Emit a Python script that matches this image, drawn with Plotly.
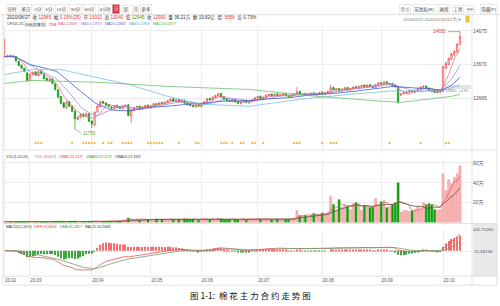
import plotly.graph_objects as go
import pandas as pd

W, H = 500, 306
def fx(p): return p / W
def fy(p): return 1 - p / H

# ---------------- data ----------------
month_labels = ["20.02", "20.03", "20.04", "20.05", "20.06", "20.07", "20.08", "20.09", "20.10"]
month_idx = [0, 9, 31, 52, 70, 90, 113, 134, 156]

opens = [13900, 13900, 13940, 13890, 13910, 13770, 13650, 13560, 13420, 13200,
         13370, 13450, 13340, 13470, 13390, 13260, 13180, 13240, 13100, 12920,
         12720, 12530, 12380, 12570, 12440, 12290, 12040, 12090, 12190, 12120,
         12210, 11990, 11880, 12260, 12420, 12570, 12530, 12480, 12410, 12370,
         12450, 12410, 12360, 12420, 12470, 12140, 12300, 12390, 12430, 12350,
         12400, 12460, 12390, 12430, 12510, 12470, 12540, 12500, 12540, 12590,
         12650, 12570, 12630, 12550, 12610, 12530, 12490, 12450, 12410, 12480,
         12420, 12490, 12550, 12660, 12610, 12690, 12740, 12810, 12710, 12650,
         12610, 12570, 12630, 12570, 12510, 12550, 12610, 12530, 12570, 12610,
         12670, 12730, 12650, 12690, 12750, 12790, 12730, 12800, 12740, 12760,
         12810, 12750, 12710, 12750, 12790, 12870, 12770, 12810, 12750, 12780,
         12830, 12770, 12790, 12850, 12790, 12820, 12860, 12990, 12910, 12960,
         12890, 12930, 12990, 12910, 12950, 13010, 12960, 13010, 13060, 12990,
         13070, 13030, 12980, 13060, 13130, 13090, 13160, 13080, 13110, 13050,
         13000, 12760, 12800, 12820, 12840, 12890, 12850, 12900, 12940, 12990,
         13030, 12970, 12890, 12890, 12830, 12850, 12880, 13560, 13680, 13830,
         13960, 14050, 14270]

highs = [14440, 13960, 13950, 13950, 13930, 13790, 13670, 13580, 13440, 13400,
         13470, 13480, 13490, 13500, 13410, 13280, 13270, 13260, 13120, 12940,
         12740, 12560, 12600, 12590, 12460, 12300, 12140, 12230, 12220, 12240,
         12230, 12010, 12280, 12470, 12600, 12600, 12550, 12500, 12430, 12470,
         12480, 12430, 12460, 12480, 12500, 12340, 12410, 12450, 12460, 12440,
         12470, 12480, 12470, 12530, 12530, 12560, 12560, 12570, 12620, 12660,
         12670, 12640, 12650, 12620, 12630, 12550, 12510, 12470, 12490, 12500,
         12520, 12580, 12670, 12680, 12720, 12770, 12830, 12830, 12730, 12670,
         12630, 12640, 12650, 12590, 12580, 12620, 12630, 12600, 12640, 12700,
         12740, 12750, 12720, 12780, 12800, 12810, 12810, 12820, 12790, 12820,
         12830, 12770, 12780, 12820, 13000, 12890, 12820, 12830, 12810, 12840,
         12850, 12820, 12860, 12870, 12850, 12890, 13070, 13010, 12970, 12980,
         12960, 13000, 13010, 12980, 13020, 13030, 13040, 13070, 13080, 13080,
         13090, 13050, 13100, 13150, 13150, 13180, 13180, 13130, 13130, 13070,
         13020, 12830, 12860, 12880, 12910, 12910, 12930, 12980, 13030, 13060,
         13050, 12990, 12910, 12910, 12880, 12890, 13640, 13760, 13880, 14020,
         14100, 14300, 14650]

lows = [13870, 13880, 13880, 13870, 13750, 13620, 13530, 13440, 13150, 13180,
        13350, 13330, 13320, 13380, 13230, 13170, 13160, 13090, 12900, 12680,
        12490, 12370, 12360, 12410, 12260, 11750, 12010, 12070, 12100, 12100,
        11960, 11780, 11830, 12240, 12400, 12500, 12450, 12400, 12350, 12350,
        12380, 12340, 12340, 12400, 12130, 11930, 12280, 12370, 12340, 12330,
        12380, 12380, 12370, 12410, 12460, 12450, 12490, 12480, 12520, 12570,
        12560, 12550, 12540, 12530, 12500, 12460, 12430, 12400, 12390, 12410,
        12400, 12470, 12530, 12600, 12590, 12670, 12720, 12680, 12620, 12580,
        12560, 12550, 12540, 12500, 12490, 12530, 12520, 12510, 12550, 12590,
        12650, 12640, 12630, 12670, 12730, 12720, 12710, 12730, 12720, 12740,
        12720, 12700, 12690, 12730, 12770, 12760, 12750, 12740, 12730, 12760,
        12760, 12750, 12770, 12780, 12770, 12800, 12840, 12900, 12890, 12880,
        12870, 12910, 12900, 12890, 12930, 12950, 12940, 12990, 12980, 12970,
        13000, 12970, 12960, 13040, 13080, 13070, 13070, 13060, 13020, 12980,
        12500, 12740, 12780, 12800, 12820, 12840, 12830, 12880, 12920, 12970,
        12940, 12880, 12860, 12820, 12810, 12830, 12860, 13530, 13650, 13800,
        13930, 14020, 14250]

closes = [13910, 13930, 13900, 13920, 13780, 13640, 13560, 13470, 13200, 13380,
          13440, 13350, 13460, 13400, 13250, 13200, 13230, 13110, 12930, 12700,
          12520, 12400, 12560, 12430, 12280, 12060, 12100, 12180, 12130, 12200,
          11980, 11900, 12250, 12430, 12560, 12520, 12470, 12420, 12380, 12440,
          12400, 12370, 12430, 12460, 12160, 12310, 12380, 12420, 12360, 12410,
          12450, 12400, 12440, 12500, 12480, 12530, 12510, 12550, 12600, 12640,
          12580, 12620, 12560, 12600, 12520, 12480, 12450, 12420, 12470, 12430,
          12500, 12560, 12650, 12620, 12700, 12750, 12800, 12700, 12640, 12600,
          12580, 12620, 12560, 12520, 12560, 12600, 12540, 12580, 12620, 12680,
          12720, 12660, 12700, 12760, 12780, 12740, 12790, 12750, 12770, 12800,
          12740, 12720, 12760, 12800, 12860, 12780, 12800, 12760, 12790, 12820,
          12780, 12800, 12840, 12800, 12830, 12870, 12980, 12920, 12950, 12900,
          12940, 12980, 12920, 12960, 13000, 12970, 13020, 13050, 13000, 13060,
          13020, 12990, 13070, 13120, 13100, 13150, 13090, 13100, 13040, 13000,
          12560, 12800, 12830, 12850, 12880, 12860, 12900, 12950, 13000, 13020,
          12960, 12900, 12880, 12840, 12860, 12870, 13610, 13700, 13850, 13990,
          14060, 14280, 14500]

volumes = [0.8, 0.6, 0.7, 0.5, 0.9, 1.0, 0.8, 0.9, 1.2, 0.8,
           0.7, 0.6, 0.8, 0.6, 0.9, 0.8, 0.7, 1.0, 1.2, 1.4,
           1.3, 1.1, 1.0, 0.9, 1.2, 1.6, 1.0, 0.9, 0.8, 0.9,
           1.2, 1.4, 1.5, 1.2, 1.1, 1.0, 0.9, 1.0, 1.2, 1.1,
           1.3, 1.5, 2.5, 3.0, 4.5, 3.8, 3.0, 3.2, 2.8, 3.3,
           3.5, 3.0, 2.8, 3.1, 3.6, 2.9, 3.2, 3.4, 3.0, 3.7,
           3.3, 2.9, 3.5, 3.1, 3.8, 3.4, 3.0, 3.6, 3.2, 2.9,
           3.5, 4.0, 3.8, 3.3, 4.2, 3.6, 4.5, 3.9, 3.4, 3.0,
           3.2, 3.6, 3.3, 2.9, 3.4, 3.8, 3.1, 3.5, 3.0, 3.7,
           4.0, 3.5, 3.2, 3.8, 3.4, 3.0, 3.6, 3.3, 2.9, 3.5,
           3.1, 3.4, 3.8, 4.5, 12, 7, 6.5, 7, 6, 8,
           9, 8.5, 8, 9.5, 9, 10, 26, 18, 12, 23,
           15, 18, 16, 13, 19, 20, 19, 12, 17, 16,
           15, 16, 24, 17, 21, 22, 15, 16, 18, 20,
           40, 10, 12, 12, 11, 12, 13, 16, 14, 20,
           18, 19, 18, 13, 12, 13, 49, 32, 43, 39,
           45, 49, 57]

ma60_idx = [0, 10, 20, 28, 44, 58, 70, 87, 105, 123, 137, 147, 155, 162]
ma60_val = [13375, 13520, 13520, 13375, 13080, 12725, 12490, 12430, 12635, 12785, 12880, 12890, 12875, 13060]
ma120_idx = [0, 10, 34, 58, 87, 111, 135, 141, 159, 162]
ma120_val = [13110, 13200, 13140, 13020, 12930, 12725, 12575, 12545, 12725, 12785]

event_idx = [11, 12, 13, 24, 28, 29, 30, 31, 32, 35, 37, 38, 42, 43, 44, 45, 51, 52, 53, 54,
             55, 56, 62, 68, 69, 77, 78, 79, 81, 84, 85, 88, 89, 92, 103, 104, 105, 113,
             116, 117, 118, 137, 148, 157, 158]

price_ticks = [12665, 13670, 14675]
vol_ticks = [20, 40, 60]
vol_tick_text = ["20万", "40万", "60万"]
macd_ticks = [445.75265, -15.84138]
macd_tick_text = ["445.75265", "-15.84138"]

toolbar_left = ["分时", "多日", "1分", "5分", "15分", "30分", "60分", "4小时", "日", "周", "月", "更多"]
toolbar_right = ["叠加", "前复权(R)", "画线", "工具", "F9", "隐藏(P)"]

# ---------------- indicators ----------------
n = len(closes)
idx = list(range(n))
s = pd.Series(closes, dtype=float)
ma5 = s.rolling(5, min_periods=1).mean()
ma10 = s.rolling(10, min_periods=1).mean()
ma20 = s.rolling(20, min_periods=1).mean()
ema12 = s.ewm(span=12, adjust=False).mean()
ema26 = s.ewm(span=26, adjust=False).mean()
dif = ema12 - ema26
dea = dif.ewm(span=9, adjust=False).mean()
hist = 2 * (dif - dea)
v = pd.Series(volumes, dtype=float)
vma5 = v.rolling(5, min_periods=1).mean()
vma10 = v.rolling(10, min_periods=1).mean()

up = [c >= o for o, c in zip(opens, closes)]
RED = '#ee4040'
GREEN = '#10a010'
PINK_FILL = '#fababa'
PINK_LINE = '#f08080'

price_rng = [11157, 14823]
ev_y = price_rng[0] + (148 - 142) / (148 - 24) * (price_rng[1] - price_rng[0])

fig = go.Figure()

for vals, col in [(ma5, '#f0709a'), (ma10, '#a08ee0'), (ma20, '#3d5ccc')]:
    fig.add_trace(go.Scatter(x=idx, y=vals, mode='lines', line=dict(color=col, width=0.8),
                             xaxis='x', yaxis='y', hoverinfo='skip'))
fig.add_trace(go.Scatter(x=ma60_idx, y=ma60_val, mode='lines', line=dict(color='#78bde8', width=0.8),
                         xaxis='x', yaxis='y'))
fig.add_trace(go.Scatter(x=ma120_idx, y=ma120_val, mode='lines', line=dict(color='#6cbf6c', width=0.8),
                         xaxis='x', yaxis='y'))
fig.add_trace(go.Candlestick(x=idx, open=opens, high=highs, low=lows, close=closes,
                             increasing=dict(line=dict(color=RED, width=0.7), fillcolor='white'),
                             decreasing=dict(line=dict(color=GREEN, width=0.7), fillcolor=GREEN),
                             whiskerwidth=0, xaxis='x', yaxis='y'))
fig.add_trace(go.Scatter(x=event_idx, y=[ev_y] * len(event_idx), mode='markers',
                         marker=dict(color='#f0b040', size=2.2, symbol='circle'),
                         xaxis='x', yaxis='y'))

fig.add_trace(go.Bar(x=idx, y=volumes, width=0.72,
                     marker=dict(color=[PINK_FILL if u else GREEN for u in up],
                                 line=dict(color=[PINK_LINE if u else GREEN for u in up], width=0.5)),
                     xaxis='x2', yaxis='y2'))
fig.add_trace(go.Scatter(x=idx, y=vma5, mode='lines', line=dict(color='#e06a6a', width=0.8),
                         xaxis='x2', yaxis='y2'))
fig.add_trace(go.Scatter(x=idx, y=vma10, mode='lines', line=dict(color='#6b5040', width=0.8),
                         xaxis='x2', yaxis='y2'))

fig.add_trace(go.Bar(x=idx, y=hist, width=0.45,
                     marker=dict(color=['#f07070' if h >= 0 else '#3fa63f' for h in hist], line=dict(width=0)),
                     xaxis='x3', yaxis='y3'))
fig.add_trace(go.Scatter(x=idx, y=dif, mode='lines', line=dict(color='#e05858', width=0.8),
                         xaxis='x3', yaxis='y3'))
fig.add_trace(go.Scatter(x=idx, y=dea, mode='lines', line=dict(color='#7a9a70', width=0.8),
                         xaxis='x3', yaxis='y3'))

grid = '#ececec'
xcommon = dict(domain=[fx(3), fx(472)], tickvals=month_idx, showgrid=True, gridcolor=grid,
               gridwidth=0.6, zeroline=False, ticks='', showline=False)
ycommon = dict(side='right', showgrid=True, gridcolor=grid, gridwidth=0.6, zeroline=False, ticks='',
               tickfont=dict(size=5, color='#555'), showline=False)

fig.update_layout(
    width=W, height=H, margin=dict(l=0, r=0, t=0, b=0),
    paper_bgcolor='white', plot_bgcolor='white', showlegend=False,
    font=dict(family='Liberation Sans, Noto Sans CJK SC', size=5, color='#333'),
    xaxis=dict(xcommon, range=[-0.6, 166.3], anchor='y', showticklabels=False,
               rangeslider=dict(visible=False)),
    yaxis=dict(ycommon, domain=[fy(148), fy(24)], range=price_rng, tickvals=price_ticks,
               ticktext=[str(t) for t in price_ticks]),
    xaxis2=dict(xcommon, matches='x', anchor='y2', showticklabels=False),
    yaxis2=dict(ycommon, domain=[fy(222), fy(158)], range=[0, 64], tickvals=vol_ticks,
                ticktext=vol_tick_text),
    xaxis3=dict(xcommon, matches='x', anchor='y3', showticklabels=True, ticktext=month_labels,
                tickfont=dict(size=4.5, color='#555'), ticklabelshift=6),
    yaxis3=dict(ycommon, domain=[fy(276), fy(228)], range=[-530, 460], tickvals=macd_ticks,
                ticktext=macd_tick_text, tickfont=dict(size=4.3, color='#555')),
)

shapes = []
def pline(x0, y0, x1, y1, col='#d6d6d6', w=0.7):
    shapes.append(dict(type='line', xref='paper', yref='paper', x0=fx(x0), y0=fy(y0),
                       x1=fx(x1), y1=fy(y1), line=dict(color=col, width=w), layer='below'))
def prect(x0, y0, x1, y1, fill, col='rgba(0,0,0,0)'):
    shapes.append(dict(type='rect', xref='paper', yref='paper', x0=fx(x0), y0=fy(y0),
                       x1=fx(x1), y1=fy(y1), fillcolor=fill, line=dict(color=col, width=0.5), layer='below'))

prect(473, 223, 497, 276, '#e9e9e9')
prect(445, 83.5, 471, 87.5, '#e4e4e4')
pline(0, 12.7, 500, 12.7)
pline(3, 12.7, 3, 285)
pline(497, 12.7, 497, 285)
pline(472, 12.7, 472, 285)
pline(3, 149, 497, 149)
pline(3, 223, 497, 223)
pline(3, 276, 497, 276)
pline(3, 285, 497, 285)
fig.update_layout(shapes=shapes)

ann = []
def A(x, y, text, color='#333', size=5, xanchor='left', **kw):
    d = dict(xref='paper', yref='paper', x=fx(x), y=fy(y), text=text, showarrow=False,
             xanchor=xanchor, yanchor='middle', font=dict(size=size, color=color))
    d.update(kw)
    ann.append(d)

tl_x = [11.7, 25.8, 37.5, 49.2, 61.7, 75.8, 89.2, 105, 115.8, 125, 135, 145.8]
for t, x in zip(toolbar_left, tl_x):
    if t == "日":
        A(x, 7.5, t, 'white', 4.4, 'center', bgcolor='#e03232', borderpad=1)
    else:
        A(x, 7.5, t, '#444', 4.4, 'center', bordercolor='#d8d8d8', borderwidth=0.5, borderpad=1)
tr_x = [405, 424.5, 444, 458, 470.5, 489]
for t, x in zip(toolbar_right, tr_x):
    A(x, 7.5, t, '#999' if t == "叠加" else '#444', 4.4, 'center', bordercolor='#d8d8d8',
      borderwidth=0.5, borderpad=1)

R = '#e33'
G = '#1a9a1a'
def sp(t, c):
    return f'<span style="color:{c}">{t}</span>'
row2 = ('2020/08/27  收 ' + sp('12985', R) + '  幅 ' + sp('0.19%(25)', R) + '  开 ' + sp('13010', R) +
        '  高 ' + sp('13040', R) + '  低 ' + sp('12945', G) + '  收 ' + sp('12990', R) +
        '  量 36.21万  额 19.82亿  增 ' + sp('-5656', R) + '  反 0.73%')
A(5, 16, row2, '#333', 4.6)

HS = 3.7
A(5, 22.5, 'CF101-ZC', '#333', HS)
A(23.5, 22.5, '日线(前复权)', '#333', HS, bordercolor='#ccc', borderwidth=0.4, borderpad=0.3)
A(46.5, 22.5, '均线', R, HS)
A(56, 22.5, 'MA5:12959', '#e8507a', HS)
A(79, 22.5, 'MA10:12974', '#8a7ad8', HS)
A(103, 22.5, 'MA20:12947', '#3d5ccc', HS)
A(127, 22.5, 'MA60:12869', '#5aaee0', HS)
A(151, 22.5, 'MA120:12377', '#4cae4c', HS)
A(401, 17.5, '2020/02/19-2020/10/16(162天)▼', '#777', 4)
A(465, 17.5, ' ', '#777', 3, bgcolor='#f2c230')

A(4, 156.5, 'VOL(5,10,20)', '#333', HS)
A(33, 156.5, 'VOL:19.62万', '#e0507a', HS)
A(57, 156.5, 'VMA5:24.21万', R, HS)
A(84, 156.5, 'VMA10:22.11万', G, HS)
A(113, 156.5, 'VMA20:21.33万', '#333', HS)

A(4, 226.5, 'MACD(12,26,9)', '#333', HS)
A(32, 226.5, 'DIFF:53.8604', R, HS)
A(58, 226.5, 'DEA:45.2857', G, HS)
A(83, 226.5, 'MACD:16.2068', '#333', HS)

A(430, 89, '12865  12855  +170', '#777', 4)

hi_i = highs.index(max(highs))
lo_i = lows.index(min(lows))
ann.append(dict(xref='x', yref='y', x=hi_i, y=max(highs), text=str(max(highs)), showarrow=True,
                ax=-12, ay=0, arrowhead=0, arrowwidth=0.6, arrowcolor=RED, xanchor='right',
                font=dict(size=4.5, color=RED)))
ann.append(dict(xref='x', yref='y', x=lo_i, y=min(lows), text=str(min(lows)), showarrow=True,
                ax=6, ay=4, arrowhead=0, arrowwidth=0.6, arrowcolor='#559955', xanchor='left',
                font=dict(size=4.5, color='#559955')))

ann.append(dict(xref='paper', yref='paper', x=0.5, y=fy(295), text='图 1-1:  棉 花 主 力 合 约 走 势 图',
                showarrow=False, xanchor='center', yanchor='middle',
                font=dict(size=8.5, color='#111', family='Noto Sans CJK SC')))
fig.update_layout(annotations=ann)

fig.write_html("out.html")
